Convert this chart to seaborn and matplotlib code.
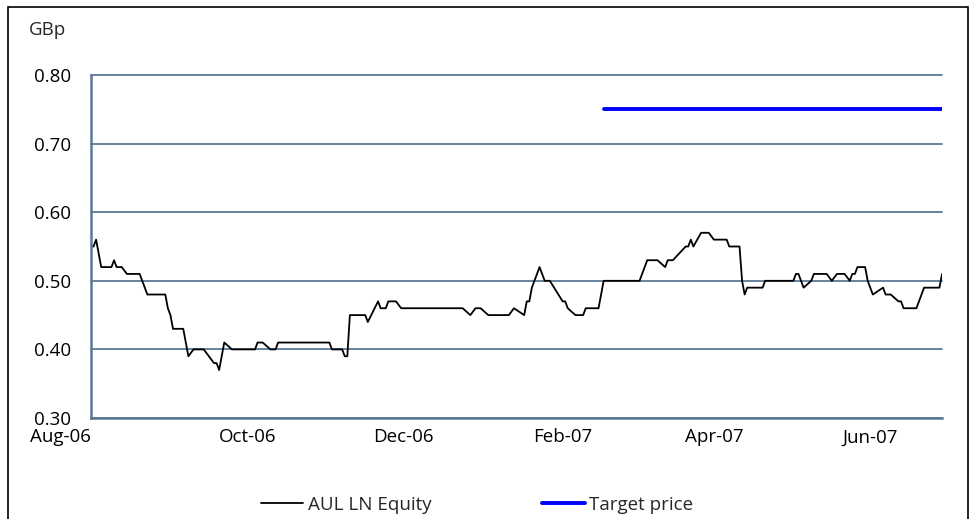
import pandas as pd
import matplotlib.pyplot as plt
import matplotlib.dates as mdates
from matplotlib.patches import Rectangle
import seaborn as sns

# AUL LN Equity share price (GBp), vertices
price_dates = [
    '2006-08-01', '2006-08-02', '2006-08-03', '2006-08-05', '2006-08-09', '2006-08-10',
    '2006-08-11', '2006-08-13', '2006-08-15', '2006-08-20', '2006-08-23', '2006-08-30',
    '2006-08-31', '2006-09-01', '2006-09-02', '2006-09-06', '2006-09-08', '2006-09-10',
    '2006-09-14', '2006-09-16', '2006-09-18', '2006-09-19', '2006-09-20', '2006-09-22',
    '2006-09-25', '2006-10-04', '2006-10-05', '2006-10-07', '2006-10-10', '2006-10-12',
    '2006-10-13', '2006-11-02', '2006-11-03', '2006-11-07', '2006-11-08', '2006-11-09',
    '2006-11-10', '2006-11-16', '2006-11-17', '2006-11-21', '2006-11-22', '2006-11-24',
    '2006-11-25', '2006-11-28', '2006-11-30', '2006-12-24', '2006-12-27', '2006-12-29',
    '2006-12-31', '2007-01-03', '2007-01-11', '2007-01-13', '2007-01-17', '2007-01-18',
    '2007-01-19', '2007-01-20', '2007-01-21', '2007-01-23', '2007-01-25', '2007-01-27',
    '2007-02-01', '2007-02-02', '2007-02-03', '2007-02-06', '2007-02-09', '2007-02-10',
    '2007-02-15', '2007-02-17', '2007-03-03', '2007-03-06', '2007-03-10', '2007-03-13',
    '2007-03-14', '2007-03-16', '2007-03-21', '2007-03-22', '2007-03-23', '2007-03-24',
    '2007-03-27', '2007-03-30', '2007-04-01', '2007-04-06', '2007-04-07', '2007-04-11',
    '2007-04-12', '2007-04-13', '2007-04-14', '2007-04-20', '2007-04-21', '2007-05-02',
    '2007-05-03', '2007-05-04', '2007-05-06', '2007-05-09', '2007-05-10', '2007-05-15',
    '2007-05-17', '2007-05-19', '2007-05-22', '2007-05-24', '2007-05-25', '2007-05-26',
    '2007-05-27', '2007-05-30', '2007-05-31', '2007-06-02', '2007-06-06', '2007-06-07',
    '2007-06-09', '2007-06-12', '2007-06-13', '2007-06-14', '2007-06-19', '2007-06-21',
    '2007-06-22', '2007-06-28', '2007-06-29',
]
price_values = [
    0.55, 0.55, 0.56, 0.52, 0.52, 0.53,
    0.52, 0.52, 0.51, 0.51, 0.48, 0.48,
    0.46, 0.45, 0.43, 0.43, 0.39, 0.40,
    0.40, 0.39, 0.38, 0.38, 0.37, 0.41,
    0.40, 0.40, 0.41, 0.41, 0.40, 0.40,
    0.41, 0.41, 0.40, 0.40, 0.39, 0.39,
    0.45, 0.45, 0.44, 0.47, 0.46, 0.46,
    0.47, 0.47, 0.46, 0.46, 0.45, 0.46,
    0.46, 0.45, 0.45, 0.46, 0.45, 0.47,
    0.47, 0.49, 0.50, 0.52, 0.50, 0.50,
    0.47, 0.47, 0.46, 0.45, 0.45, 0.46,
    0.46, 0.50, 0.50, 0.53, 0.53, 0.52,
    0.53, 0.53, 0.55, 0.55, 0.56, 0.55,
    0.57, 0.57, 0.56, 0.56, 0.55, 0.55,
    0.50, 0.48, 0.49, 0.49, 0.50, 0.50,
    0.51, 0.51, 0.49, 0.50, 0.51, 0.51,
    0.50, 0.51, 0.51, 0.50, 0.51, 0.51,
    0.52, 0.52, 0.50, 0.48, 0.49, 0.48,
    0.48, 0.47, 0.47, 0.46, 0.46, 0.48,
    0.49, 0.49, 0.51,
]

# Target price
target_dates = ['2007-02-17', '2007-06-29']
target_values = [0.75, 0.75]

y_ticks = [0.30, 0.40, 0.50, 0.60, 0.70, 0.80]
x_ticks = ['2006-08-01', '2006-10-01', '2006-12-01', '2007-02-01', '2007-04-01', '2007-06-01']

price = pd.DataFrame({'Date': pd.to_datetime(price_dates), 'Price': price_values})
target = pd.DataFrame({'Date': pd.to_datetime(target_dates), 'Price': target_values})

sns.set_style('white')
plt.rcParams['font.family'] = ['Open Sans', 'DejaVu Sans']

axis_col = '#5b7896'
fsize = 13.5

fig = plt.figure(figsize=(9.76, 5.19), dpi=100)
ax = fig.add_axes([0.0932, 0.1946, 0.8720, 0.6609])

sns.lineplot(x='Date', y='Price', data=price, ax=ax, color='black', linewidth=1.3,
             label='AUL LN Equity')
sns.lineplot(x='Date', y='Price', data=target, ax=ax, color='#0000ff', linewidth=2.8,
             label='Target price')

ax.set_ylim(0.30, 0.80)
ax.set_xlim(pd.Timestamp('2006-08-01'), pd.Timestamp('2007-06-29'))
ax.set_yticks(y_ticks)
ax.set_yticklabels([f'{v:.2f}' for v in y_ticks])
ax.set_xticks(pd.to_datetime(x_ticks))
ax.xaxis.set_major_formatter(mdates.DateFormatter('%b-%y'))

ax.grid(axis='y', color=axis_col, linewidth=1.3)
ax.grid(axis='x', visible=False)
for gl in ax.get_ygridlines():
    gl.set_clip_on(False)
ax.set_axisbelow(True)

for side in ['top', 'right']:
    ax.spines[side].set_visible(False)
for side in ['left', 'bottom']:
    ax.spines[side].set_color(axis_col)
    ax.spines[side].set_linewidth(1.8)

ax.tick_params(axis='both', which='major', direction='out', length=4.5, width=1.3,
               color=axis_col, labelsize=fsize, labelcolor='black')
ax.tick_params(axis='y', pad=10)
ax.tick_params(axis='x', pad=3)
ax.set_xlabel('')
ax.set_ylabel('')

# first date label sits left of its tick in the original
fig.canvas.draw()
ax.get_xticklabels()[0].set_horizontalalignment('right')

fig.text(0.030, 0.942, 'GBp', fontsize=fsize, ha='left', va='center')

ax.get_legend().remove()
handles, labels = ax.get_legend_handles_labels()
fig.legend(handles, labels, loc='center', bbox_to_anchor=(0.489, 0.027), ncol=2,
           frameon=False, fontsize=fsize, handlelength=2.25, handletextpad=0.25,
           columnspacing=5.9)

# outer chart frame
fig.patches.append(Rectangle((0.008, -0.05), 0.984, 1.037, transform=fig.transFigure,
                             fill=False, edgecolor='black', linewidth=1.2))

fig.savefig('out.png', dpi=100)
